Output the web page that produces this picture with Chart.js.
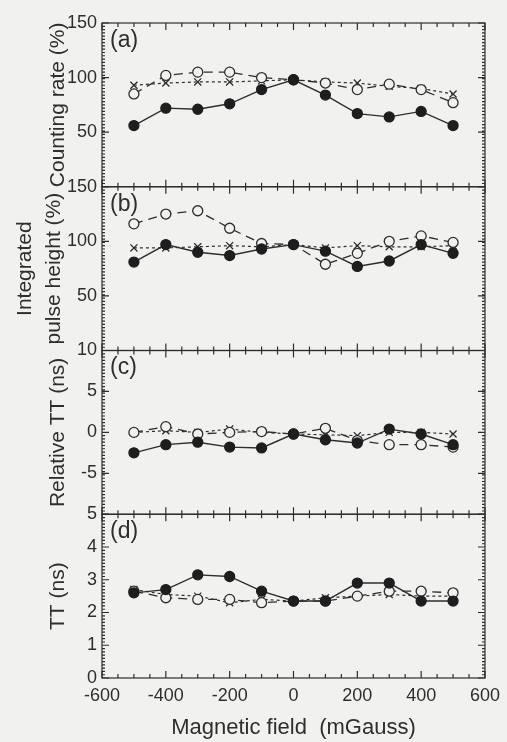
<!DOCTYPE html>
<html>
<head>
<meta charset="utf-8">
<script src="https://cdn.jsdelivr.net/npm/chart.js@4.4.0/dist/chart.umd.min.js"></script>
<style>
  html, body { margin: 0; padding: 0; background: #f1f1ef; }
  #wrap { width: 507px; height: 742px; position: relative; }
</style>
</head>
<body>
<div id="wrap"><canvas id="chart"></canvas></div>
<script>
// magnetic field (mGauss)
const fieldValues = [-500, -400, -300, -200, -100, 0, 100, 200, 300, 400, 500];

// (a) counting rate (%)
const rateFilled = [56, 72, 71, 76, 89, 98, 84, 67, 64, 69, 56];
const rateOpen   = [85, 102, 105, 105, 100, 98, 95, 89, 94, 89, 77];
const rateCross  = [93, 95, 96, 96, 97, 98, 96, 95, 92, 90, 85];

// (b) integrated pulse height (%)
const pulseFilled = [81, 97, 90, 87, 93, 97, 91, 77, 82, 97, 89];
const pulseOpen   = [116, 125, 128, 112, 98, 97, 79, 89, 100, 105, 99];
const pulseCross  = [94, 94, 95, 96, 95, 97, 94, 96, 95, 95, 96];

// (c) relative TT (ns)
const relFilled = [-2.5, -1.5, -1.2, -1.8, -1.9, -0.2, -0.9, -1.3, 0.4, -0.2, -1.5];
const relOpen   = [0, 0.7, -0.2, 0, 0.1, -0.2, 0.5, -1.0, -1.5, -1.5, -1.8];
const relCross  = [0, 0.2, 0, 0.4, 0, -0.2, -0.3, -0.4, 0, 0, -0.2];

// (d) TT (ns)
const ttFilled = [2.6, 2.7, 3.15, 3.1, 2.65, 2.35, 2.35, 2.9, 2.9, 2.35, 2.35];
const ttOpen   = [2.65, 2.45, 2.4, 2.4, 2.3, 2.35, 2.35, 2.5, 2.65, 2.65, 2.6];
const ttCross  = [2.7, 2.55, 2.5, 2.3, 2.4, 2.35, 2.45, 2.5, 2.55, 2.5, 2.5];

const xTitle = 'Magnetic field  (mGauss)';

// one entry per stacked panel, top to bottom
const panels = [
  { id: 'ya', tag: '(a)', title: 'Counting rate (%)', min: 0, max: 150, step: 50, fine: 3,
    series: [rateFilled, rateOpen, rateCross] },
  { id: 'yb', tag: '(b)', title: ['Integrated', 'pulse height (%)'], min: 0, max: 150, step: 50, fine: 3,
    series: [pulseFilled, pulseOpen, pulseCross] },
  { id: 'yc', tag: '(c)', title: 'Relative TT (ns)', min: -10, max: 10, step: 5, fine: 0.4,
    series: [relFilled, relOpen, relCross] },
  { id: 'yd', tag: '(d)', title: 'TT (ns)', min: 0, max: 5, step: 1, fine: 0.1,
    series: [ttFilled, ttOpen, ttCross] },
];

const INK = '#2e2e2e';
const BG = '#f1f1ef';
const FONT = 'Liberation Sans';

const markerStyles = [
  { pointStyle: 'circle', pointRadius: 5, pointBackgroundColor: '#1e1e1e', pointBorderColor: '#1e1e1e',
    borderWidth: 1.4, borderDash: [] },
  { pointStyle: 'circle', pointRadius: 5, pointBackgroundColor: BG, pointBorderColor: INK,
    borderWidth: 1.3, borderDash: [9, 6] },
  { pointStyle: 'crossRot', pointRadius: 5, pointBackgroundColor: INK, pointBorderColor: INK,
    borderWidth: 1.2, borderDash: [3, 3] },
];

const datasets = [];
panels.forEach(p => {
  p.series.forEach((values, i) => {
    const st = markerStyles[i];
    datasets.push({
      data: fieldValues.map((f, k) => ({ x: f, y: values[k] })),
      yAxisID: p.id,
      borderColor: INK,
      borderWidth: st.borderWidth,
      borderDash: st.borderDash,
      pointStyle: st.pointStyle,
      pointRadius: st.pointRadius,
      pointBackgroundColor: st.pointBackgroundColor,
      pointBorderColor: st.pointBorderColor,
      pointBorderWidth: 1.3,
      tension: 0,
      fill: false,
    });
  });
});

const scales = {
  x: {
    type: 'linear',
    position: 'bottom',
    min: -600, max: 600,
    grid: { display: false, drawTicks: false },
    border: { display: false },
    ticks: { stepSize: 200, padding: 7, color: INK, font: { family: FONT, size: 18 }, maxRotation: 0 },
    title: { display: true, text: xTitle, color: INK, font: { family: FONT, size: 22 }, padding: { top: 4, bottom: 1 } },
    afterFit: s => { s.height = 64; },
  },
};

panels.forEach((p, idx) => {
  const twoLines = Array.isArray(p.title);
  scales[p.id] = {
    type: 'linear',
    position: 'left',
    stack: 'panels',
    stackWeight: 1,
    weight: panels.length - idx,
    min: p.min, max: p.max,
    grid: { display: false, drawTicks: false },
    border: { display: false },
    ticks: {
      stepSize: p.step, padding: 5, autoSkip: false, color: INK,
      font: { family: FONT, size: 18 },
      // the bottom label of each upper panel is covered by the panel below
      callback: v => (v === p.min && idx < panels.length - 1) ? '' : v,
    },
    title: {
      display: true, text: p.title, color: INK,
      font: { family: FONT, size: 21, lineHeight: twoLines ? 1.38 : 1.2 },
      padding: { top: twoLines ? 11 : 46, bottom: 0 },
    },
    afterFit: s => { s.width = 102; },
  };
});

const panelFrame = {
  id: 'panelFrame',
  afterDatasetsDraw(chart) {
    const { ctx, chartArea, scales } = chart;
    const xs = scales.x;
    const left = chartArea.left, right = chartArea.right;
    ctx.save();
    ctx.strokeStyle = INK;
    ctx.lineWidth = 1.2;
    panels.forEach(p => {
      const ys = scales[p.id];
      const top = ys.top, bottom = ys.bottom;
      ctx.strokeRect(left, top, right - left, bottom - top);
      ctx.beginPath();
      for (let v = -600; v <= 600; v += 50) {
        const px = xs.getPixelForValue(v);
        const len = v % 200 === 0 ? 7 : 4;
        ctx.moveTo(px, top); ctx.lineTo(px, top + len);
        ctx.moveTo(px, bottom); ctx.lineTo(px, bottom - len);
      }
      const n = Math.round((p.max - p.min) / p.fine);
      for (let i = 0; i <= n; i++) {
        const py = ys.getPixelForValue(p.min + i * p.fine);
        ctx.moveTo(left, py); ctx.lineTo(left + 3, py);
        ctx.moveTo(right, py); ctx.lineTo(right - 3, py);
      }
      for (let v = p.min; v <= p.max; v += p.step) {
        const py = ys.getPixelForValue(v);
        ctx.moveTo(left, py); ctx.lineTo(left + 7, py);
        ctx.moveTo(right, py); ctx.lineTo(right - 7, py);
      }
      ctx.stroke();
      ctx.fillStyle = INK;
      ctx.font = '23px ' + FONT;
      ctx.textBaseline = 'top';
      ctx.textAlign = 'left';
      ctx.fillText(p.tag, left + 8, top + 6);
    });
    ctx.restore();
  }
};

new Chart(document.getElementById('chart'), {
  type: 'line',
  data: { datasets },
  options: {
    responsive: true,
    maintainAspectRatio: false,
    animation: false,
    layout: { padding: { top: 23, right: 20, left: 0, bottom: 0 } },
    plugins: { legend: { display: false }, tooltip: { enabled: false } },
    scales,
  },
  plugins: [panelFrame],
});
</script>
</body>
</html>
